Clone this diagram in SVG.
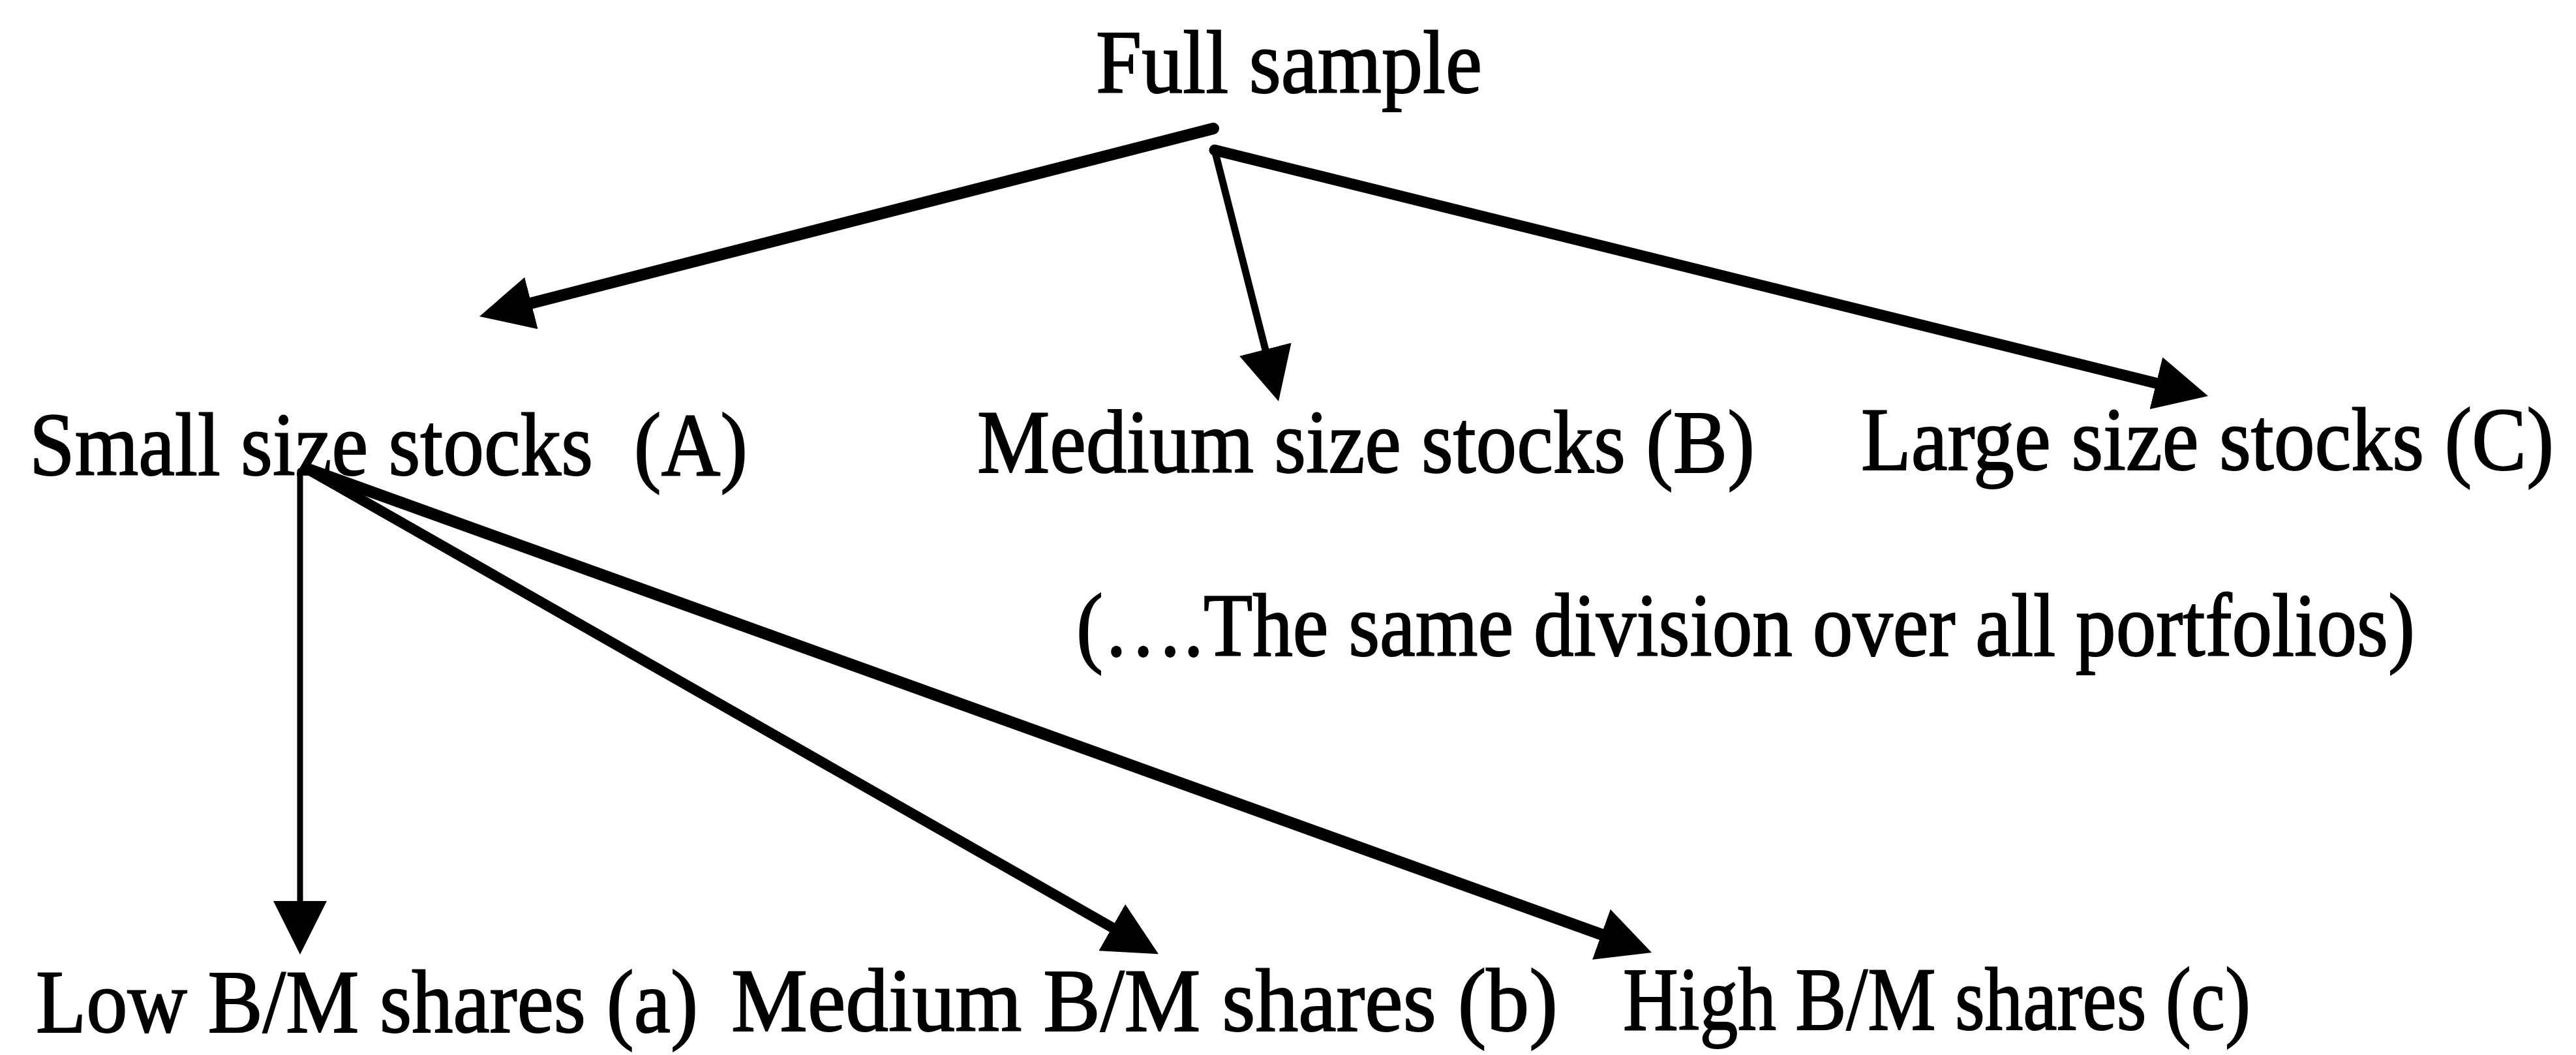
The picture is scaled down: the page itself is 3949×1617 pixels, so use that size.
<svg xmlns="http://www.w3.org/2000/svg" width="3949" height="1617" viewBox="0 0 3949 1617">
<style>
.t{font-family:"Liberation Serif","Times New Roman",serif;font-size:138px;fill:#000;stroke:#000;stroke-width:2}
.c{stroke:#000;fill:none;stroke-linecap:round}
</style>
<defs>
<marker id="ah" markerUnits="userSpaceOnUse" viewBox="0 0 82 82" markerWidth="82" markerHeight="82" refX="30" refY="41" orient="auto">
<path d="M0,0 L82,41 L0,82 z" fill="#000"/>
</marker>
</defs>
<rect width="3949" height="1617" fill="#fff"/>
<g id="connectors">
<line class="c" x1="1860" y1="197" x2="785.4" y2="472.1" stroke-width="18" marker-end="url(#ah)"/>
<line class="c" x1="1862" y1="230" x2="1947.2" y2="564.6" stroke-width="11" marker-end="url(#ah)"/>
<line class="c" x1="1862" y1="230" x2="3334.5" y2="594.5" stroke-width="17" marker-end="url(#ah)"/>
<line class="c" x1="460" y1="722" x2="460" y2="1411" stroke-width="9" marker-end="url(#ah)"/>
<line class="c" x1="470" y1="718" x2="1730.8" y2="1436.4" stroke-width="16" marker-end="url(#ah)"/>
<line class="c" x1="475" y1="720" x2="2483.1" y2="1442.4" stroke-width="18" marker-end="url(#ah)"/>
</g>
<g id="full"><text class="t" x="1680" y="142" textLength="592" lengthAdjust="spacingAndGlyphs">Full sample</text></g>
<g id="small"><text class="t" x="45" y="728" textLength="1101" lengthAdjust="spacingAndGlyphs" xml:space="preserve">Small size stocks  (A)</text></g>
<g id="medium"><text class="t" x="1498" y="724" textLength="1192" lengthAdjust="spacingAndGlyphs">Medium size stocks (B)</text></g>
<g id="large"><text class="t" x="2853" y="720" textLength="1062" lengthAdjust="spacingAndGlyphs">Large size stocks (C)</text></g>
<g id="note"><text class="t" x="1650" y="1005" textLength="2052" lengthAdjust="spacingAndGlyphs">(….The same division over all portfolios)</text></g>
<g id="lowbm"><text class="t" x="55" y="1582" textLength="1015" lengthAdjust="spacingAndGlyphs">Low B/M shares (a)</text></g>
<g id="medbm"><text class="t" x="1121" y="1580" textLength="1267" lengthAdjust="spacingAndGlyphs">Medium B/M shares (b)</text></g>
<g id="highbm"><text class="t" x="2488" y="1578" textLength="962" lengthAdjust="spacingAndGlyphs">High B/M shares (c)</text></g>
</svg>
